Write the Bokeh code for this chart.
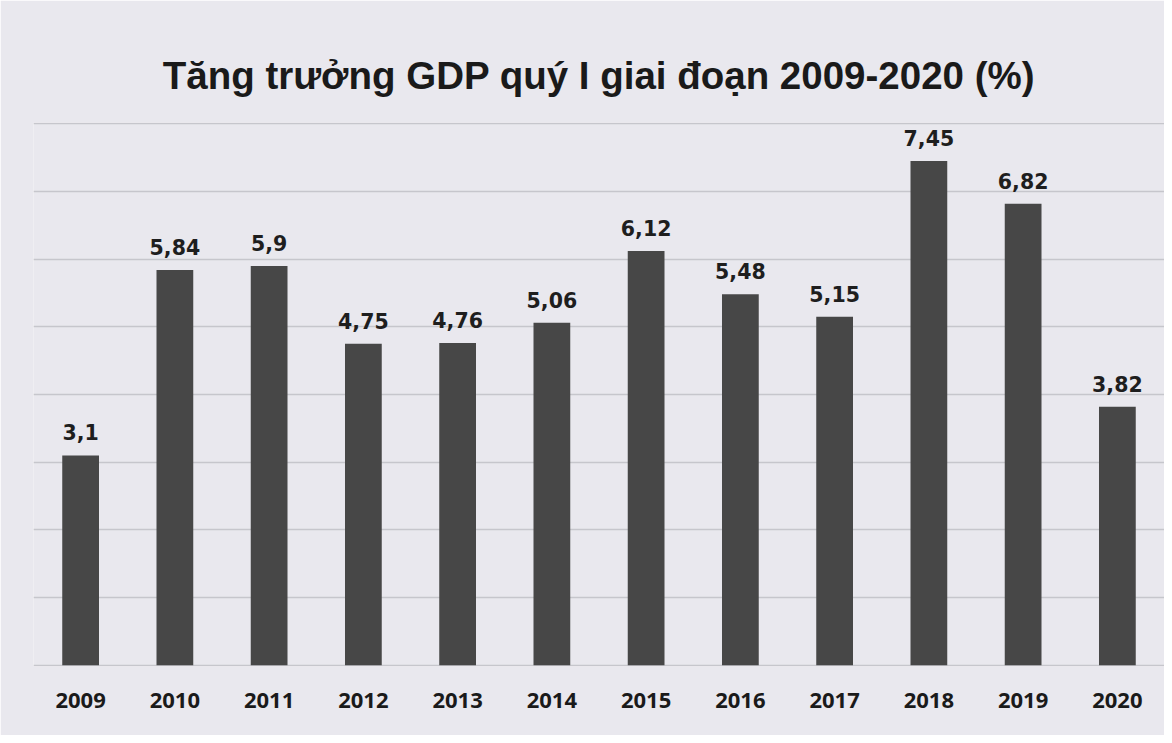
from bokeh.plotting import figure
from bokeh.models import ColumnDataSource, FactorRange, Range1d, FixedTicker, LabelSet
from bokeh.core.properties import value
from bokeh.embed import file_html
from bokeh.resources import INLINE

years = ["2009", "2010", "2011", "2012", "2013", "2014", "2015", "2016", "2017", "2018", "2019", "2020"]
growth = [3.1, 5.84, 5.9, 4.75, 4.76, 5.06, 6.12, 5.48, 5.15, 7.45, 6.82, 3.82]
value_labels = [str(v).replace(".", ",") for v in growth]
grid_ticks = [0, 1, 2, 3, 4, 5, 6, 7, 8]

title_text = "Tăng trưởng GDP quý I giai đoạn 2009-2020 (%)"

BG = "#e9e8ee"

p = figure(
    width=1164, height=735,
    x_range=FactorRange(factors=years, range_padding=0),
    y_range=Range1d(-0.02, 8.02),
    output_backend="svg", toolbar_location=None,
    title=title_text,
    min_border_left=33, min_border_right=0, min_border_top=122, min_border_bottom=69,
)
p.background_fill_color = BG
p.border_fill_color = BG
p.outline_line_color = None

p.title.align = "center"
p.title.text_font = "Liberation Sans"
p.title.text_font_style = "bold"
p.title.text_font_size = "38.5px"
p.title.text_color = "#1a1a1a"
p.title.standoff = 52

src = ColumnDataSource(dict(x=years, top=growth, label=value_labels))
p.vbar(x="x", top="top", width=0.39, source=src, fill_color="#474747", line_color=None)

labels = LabelSet(x="x", y="top", text="label", source=src, text_align="center",
                  text_baseline="alphabetic", y_offset=15,
                  text_font=value("DejaVu Sans"), text_font_style="bold",
                  text_font_size="20.5px", text_color="#1e1e1e")
p.add_layout(labels)

p.yaxis.visible = False
p.ygrid.ticker = FixedTicker(ticks=grid_ticks)
p.ygrid.grid_line_color = "#c6c6cc"
p.ygrid.grid_line_width = 1.3
p.xgrid.grid_line_color = None

p.xaxis.axis_line_color = None
p.xaxis.major_tick_line_color = None
p.xaxis.minor_tick_line_color = None
p.xaxis.major_tick_out = 0
p.xaxis.major_label_standoff = 26
p.xaxis.major_label_text_font = "Open Sans"
p.xaxis.major_label_text_font_style = "bold"
p.xaxis.major_label_text_font_size = "22px"
p.xaxis.major_label_text_color = "#1a1a1a"

open("out.html", "w").write(file_html(p, INLINE))
